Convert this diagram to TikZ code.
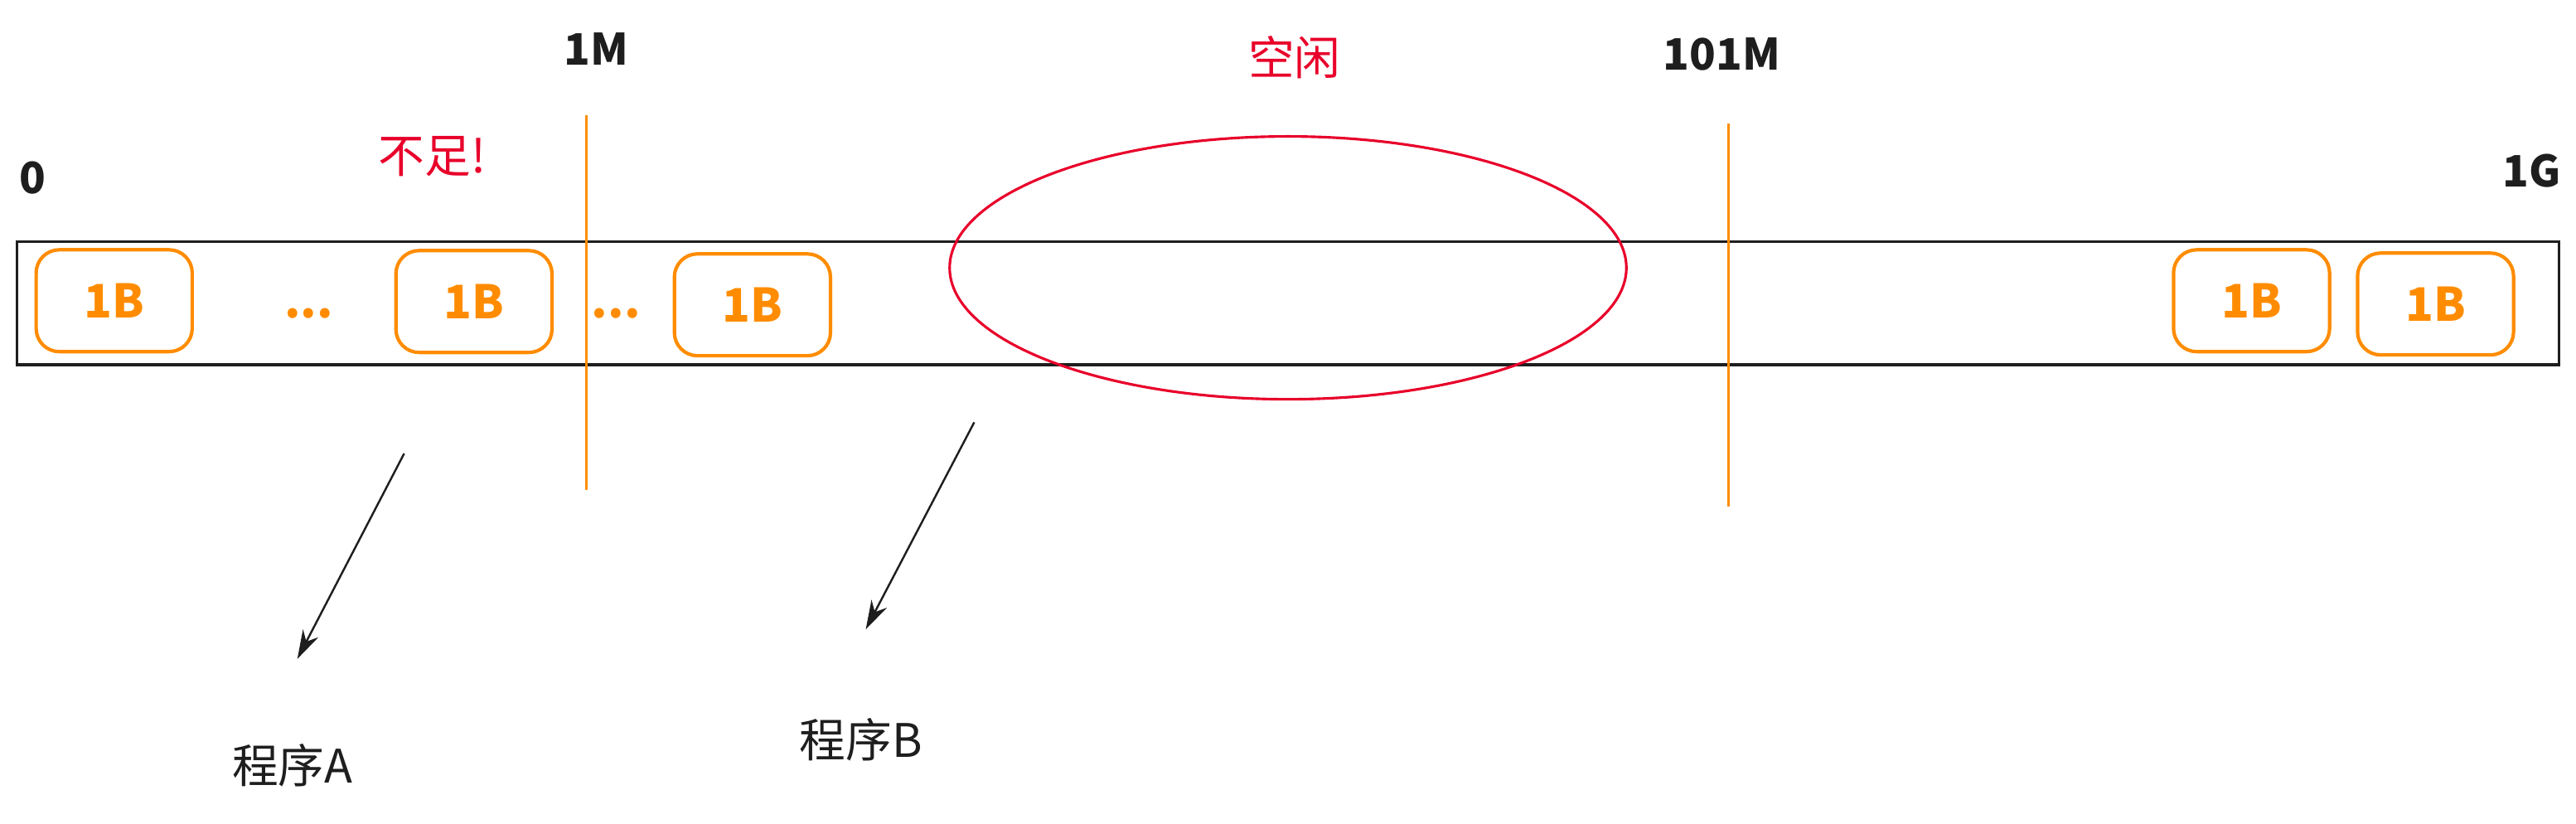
\documentclass[tikz,border=0pt]{standalone}
\usepackage{fontspec}
\setmainfont{Noto Sans CJK SC}
\usetikzlibrary{arrows.meta,shapes.geometric,positioning}
\definecolor{memorange}{RGB}{255,140,0}
\definecolor{memred}{RGB}{232,0,42}
\definecolor{ink}{RGB}{30,30,30}

\begin{document}
\begin{tikzpicture}[x=0.02cm, y=-0.02cm, semithick,
    block/.style={draw=memorange, line width=1.2pt, rounded corners=8pt, minimum width=1.9cm, minimum height=1.24cm, inner sep=0pt, text=memorange, font=\fontsize{16}{19}\selectfont\bfseries},
    etc/.style={text=memorange, font=\fontsize{16}{19}\selectfont\bfseries, inner sep=0pt},
    addr/.style={text=ink, font=\fontsize{15}{18}\selectfont\bfseries},
    note/.style={text=memred, font=\fontsize{16}{19}\selectfont},
    prog/.style={text=ink, font=\fontsize{16}{19}\selectfont},
    bound/.style={draw=memorange, line width=0.8pt},
    ptr/.style={draw=ink, line width=0.7pt, -{Stealth[length=10pt,width=6pt]}}]
    \useasboundingbox (0,0) rectangle (1568,501);
    \node [addr] (zero) at (20,108) {0};
    \node [addr] (onem) at (363,30) {1M};
    \node [addr] (hundredm) at (1048,33) {101M};
    \node [addr] (oneg) at (1541,104) {1G};
    \node [note] (short) at (263,95) {不足!};
    \node [note] (idlelabel) at (788,35) {空闲};
    \node [draw=ink, line width=0.9pt, minimum width=30.96cm, minimum height=1.5cm, inner sep=0pt] (bar) at (784,184.5) {};
    \node [block] (b1) at (69.5,183) {1B};
    \node [block] (b2) at (288.5,183.5) {1B};
    \node [block] (b3) at (458,185.5) {1B};
    \node [block] (b4) at (1370.5,183) {1B};
    \node [block] (b5) at (1482.5,185) {1B};
    \node [etc] (gapa) at (188,191) {...};
    \node [etc] (gapb) at (375,191) {...};
    \node [draw=memred, ellipse, line width=0.9pt, minimum width=8.24cm, minimum height=3.2cm, inner sep=0pt] (idle) at (784,163) {};
    \coordinate (m1top) at (357,70);
    \coordinate (m1bot) at (357,298);
    \coordinate (m2top) at (1052,75);
    \coordinate (m2bot) at (1052,308);
    \coordinate (pa) at (246,276);
    \coordinate (pahead) at (181,401);
    \coordinate (pb) at (593,257);
    \coordinate (pbhead) at (527,383);
    \node [prog] (proga) at (178,466) {程序A};
    \node [prog] (progb) at (524,450) {程序B};
    \path
    (m1top) edge [bound] (m1bot)
    (m2top) edge [bound] (m2bot)
    (pa) edge [ptr] (pahead)
    (pb) edge [ptr] (pbhead)
    ;
\end{tikzpicture}
\end{document}
